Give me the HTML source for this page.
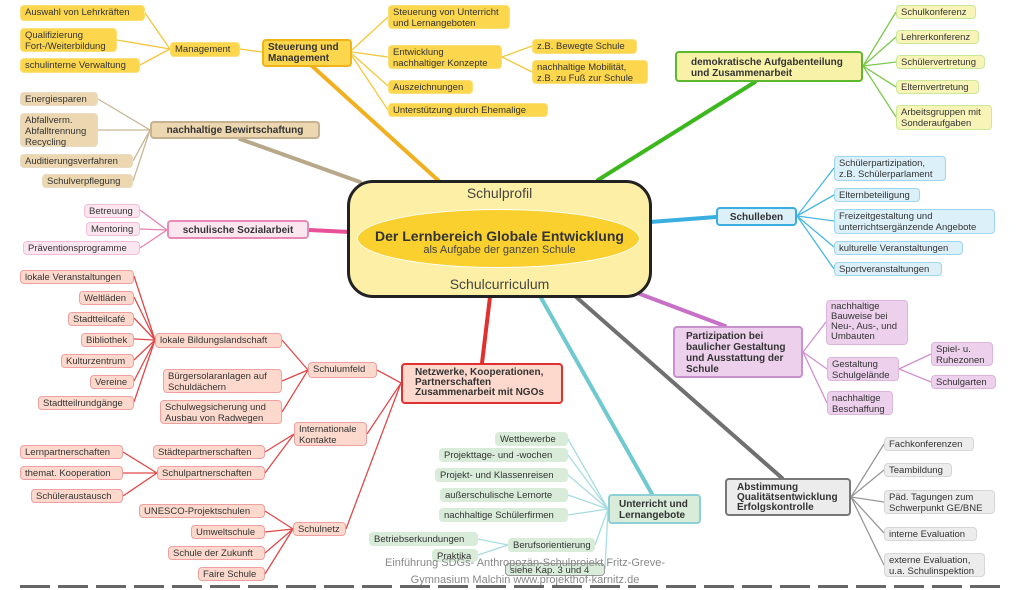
<!DOCTYPE html>
<html><head><meta charset="utf-8"><style>
body{margin:0;width:1022px;height:590px;overflow:hidden;background:#fff;position:relative;font-family:"Liberation Sans",sans-serif}
.b{position:absolute;box-sizing:border-box;font-size:9.5px;line-height:11px;padding:1px 4px;border-radius:4px;color:#333;white-space:nowrap;border:1.5px solid}
.y{background:#fcd64c;border-color:#fbe07a}
.Y{background:#fcd64c;border-color:#f0b418;border-width:2px;font-weight:bold;font-size:10px}
.g{background:#f8f4b8;border-color:#c9e89a}
.G{background:#f8f2a8;border-color:#5cb82e;border-width:2px;font-weight:bold;font-size:10px}
.t{background:#ecd7b0;border-color:#e8dcc4}
.T{background:#ecd7b0;border-color:#c6b290;border-width:2px;font-weight:bold;font-size:10px}
.p{background:#fbe6f0;border-color:#f4bcd6}
.P{background:#fbe6f0;border-color:#e88ab8;border-width:2px;font-weight:bold;font-size:10px}
.c{background:#dcf0fa;border-color:#9ed4ee}
.C{background:#dcf0fa;border-color:#3aaee0;border-width:2px;font-weight:bold;font-size:10px}
.v{background:#ecd0ec;border-color:#ddb6dd}
.V{background:#ecd0ec;border-color:#c890cc;border-width:2px;font-weight:bold;font-size:10px}
.k{background:#ececec;border-color:#d6d6d6}
.K{background:#ececec;border-color:#777;border-width:2px;font-weight:bold;font-size:10px}
.m{background:#d8ecd9;border-color:#d8ecd9}
.M{background:#d8ecd9;border-color:#8ccfd6;border-width:2px;font-weight:bold;font-size:10px}
.r{background:#fcd9cc;border-color:#f0a0a0}
.R{background:#fcd9cc;border-color:#e03030;border-width:2px;font-weight:bold;font-size:10px}
svg{position:absolute;left:0;top:0}
</style></head><body>
<svg width="1022" height="590" fill="none">
<g stroke-width="4" stroke-linecap="round">
<line x1="312" y1="66" x2="440" y2="182" stroke="#f0b020"/>
<line x1="240" y1="139" x2="360" y2="182" stroke="#b8a88a"/>
<line x1="309" y1="230" x2="350" y2="232" stroke="#e8509a"/>
<line x1="755" y1="82" x2="598" y2="180" stroke="#3cb81e"/>
<line x1="650" y1="222" x2="716" y2="217" stroke="#3aaee0"/>
<line x1="640" y1="294" x2="725" y2="326" stroke="#c870c8"/>
<line x1="575" y1="296" x2="782" y2="478" stroke="#707070"/>
<line x1="540" y1="296" x2="652" y2="494" stroke="#70c8d0"/>
<line x1="490" y1="297" x2="482" y2="363" stroke="#e03030"/>
</g>
<g stroke="#f5c63a" stroke-width="1.3">
<path d="M145 13L170 49M117 40L170 49M140 65L170 49M240 49L262 52M352 50L388 17M352 52L388 57M352 54L388 86M352 56L388 110M502 57L532 46M502 57L532 72"/>
</g>
<g stroke="#7cc84a" stroke-width="1.3"><path d="M863 66L896 12M863 66L896 37M863 66L896 62M863 66L896 87M863 66L896 117"/></g>
<g stroke="#c8b898" stroke-width="1.3"><path d="M150 130L98 99M150 130L98 130M150 130L133 161M150 130L133 181"/></g>
<g stroke="#e880b0" stroke-width="1.3"><path d="M167 230L140 210M167 230L140 229M167 230L140 248"/></g>
<g stroke="#48b8e0" stroke-width="1.3"><path d="M797 216L834 168M797 216L834 195M797 216L834 221M797 216L834 247M797 216L834 269"/></g>
<g stroke="#d090d0" stroke-width="1.3"><path d="M803 352L826 322M803 352L827 369M803 352L827 403M899 369L931 354M899 369L931 382"/></g>
<g stroke="#999" stroke-width="1.3"><path d="M851 497L884 444M851 497L884 470M851 497L884 502M851 497L884 533M851 497L884 565"/></g>
<g stroke="#a8dce0" stroke-width="1.3"><path d="M608 509L568 439M608 509L568 455M608 509L568 475M608 509L568 495M608 509L568 515M608 509L595 545M608 509L605 569M508 545L478 539M508 545L478 555"/></g>
<g stroke="#e04848" stroke-width="1.3"><path d="M401 383L377 370M401 383L367 434M401 383L346 529M308 370L282 340M308 370L282 381M308 370L282 412M155 340L134 276M155 340L134 297M155 340L134 318M155 340L134 339M155 340L134 360M155 340L134 381M155 340L134 402M294 434L265 452M294 434L265 473M157 473L123 452M157 473L123 473M157 473L123 496M293 529L265 511M293 529L265 532M293 529L265 553M293 529L265 574"/></g>
</svg>

<div class="b y" style="left:20px;top:5px;width:125px;height:16px">Auswahl von Lehrkräften</div>
<div class="b y" style="left:20px;top:28px;width:97px;height:24px">Qualifizierung<br>Fort-/Weiterbildung</div>
<div class="b y" style="left:20px;top:58px;width:120px;height:15px">schulinterne Verwaltung</div>
<div class="b y" style="left:170px;top:42px;width:70px;height:15px">Management</div>
<div class="b Y" style="left:262px;top:39px;width:90px;height:28px">Steuerung und<br>Management</div>
<div class="b y" style="left:388px;top:5px;width:122px;height:24px">Steuerung von Unterricht<br>und Lernangeboten</div>
<div class="b y" style="left:388px;top:45px;width:114px;height:24px">Entwicklung<br>nachhaltiger Konzepte</div>
<div class="b y" style="left:532px;top:39px;width:105px;height:15px">z.B. Bewegte Schule</div>
<div class="b y" style="left:532px;top:60px;width:116px;height:24px">nachhaltige Mobilität,<br>z.B. zu Fuß zur Schule</div>
<div class="b y" style="left:388px;top:80px;width:85px;height:14px">Auszeichnungen</div>
<div class="b y" style="left:388px;top:103px;width:160px;height:14px">Unterstützung durch Ehemalige</div>

<div class="b G" style="left:675px;top:51px;width:188px;height:31px;padding:4px 14px">demokratische Aufgabenteilung<br>und Zusammenarbeit</div>
<div class="b g" style="left:896px;top:5px;width:80px;height:14px">Schulkonferenz</div>
<div class="b g" style="left:896px;top:30px;width:83px;height:14px">Lehrerkonferenz</div>
<div class="b g" style="left:896px;top:55px;width:89px;height:14px">Schülervertretung</div>
<div class="b g" style="left:896px;top:80px;width:83px;height:14px">Elternvertretung</div>
<div class="b g" style="left:896px;top:105px;width:96px;height:25px">Arbeitsgruppen mit<br>Sonderaufgaben</div>

<div class="b T" style="left:150px;top:121px;width:170px;height:18px;text-align:center;padding-top:2px">nachhaltige Bewirtschaftung</div>
<div class="b t" style="left:20px;top:92px;width:78px;height:14px">Energiesparen</div>
<div class="b t" style="left:20px;top:113px;width:78px;height:34px">Abfallverm.<br>Abfalltrennung<br>Recycling</div>
<div class="b t" style="left:20px;top:154px;width:113px;height:14px">Auditierungsverfahren</div>
<div class="b t" style="left:42px;top:174px;width:91px;height:14px">Schulverpflegung</div>

<div class="b P" style="left:167px;top:220px;width:142px;height:19px;text-align:center;padding-top:3px">schulische Sozialarbeit</div>
<div class="b p" style="left:84px;top:204px;width:56px;height:14px">Betreuung</div>
<div class="b p" style="left:86px;top:222px;width:54px;height:14px">Mentoring</div>
<div class="b p" style="left:23px;top:241px;width:117px;height:14px">Präventionsprogramme</div>

<div style="position:absolute;left:347px;top:180px;width:305px;height:118px;box-sizing:border-box;border:3px solid #222;border-radius:26px;background:#fdf0a6"></div>
<div style="position:absolute;left:357px;top:209px;width:283px;height:59px;box-sizing:border-box;border:1.5px solid #fff;border-radius:50%;background:#fad02e"></div>
<div style="position:absolute;left:347px;top:185px;width:305px;text-align:center;font-size:14px;color:#444">Schulprofil</div>
<div style="position:absolute;left:347px;top:228px;width:305px;text-align:center;font-size:14px;font-weight:bold;color:#333">Der Lernbereich Globale Entwicklung</div>
<div style="position:absolute;left:347px;top:244px;width:305px;text-align:center;font-size:11px;color:#444">als Aufgabe der ganzen Schule</div>
<div style="position:absolute;left:347px;top:276px;width:305px;text-align:center;font-size:14px;color:#444">Schulcurriculum</div>

<div class="b C" style="left:716px;top:207px;width:81px;height:19px;text-align:center;padding-top:3px">Schulleben</div>
<div class="b c" style="left:834px;top:156px;width:112px;height:25px">Schülerpartizipation,<br>z.B. Schülerparlament</div>
<div class="b c" style="left:834px;top:188px;width:86px;height:14px">Elternbeteiligung</div>
<div class="b c" style="left:834px;top:209px;width:161px;height:25px">Freizeitgestaltung und<br>unterrichtsergänzende Angebote</div>
<div class="b c" style="left:834px;top:241px;width:129px;height:14px">kulturelle Veranstaltungen</div>
<div class="b c" style="left:834px;top:262px;width:108px;height:14px">Sportveranstaltungen</div>

<div class="b V" style="left:673px;top:326px;width:130px;height:52px;padding:3px 11px">Partizipation bei<br>baulicher Gestaltung<br>und Ausstattung der<br>Schule</div>
<div class="b v" style="left:826px;top:300px;width:82px;height:45px;line-height:10px">nachhaltige<br>Bauweise bei<br>Neu-, Aus-, und<br>Umbauten</div>
<div class="b v" style="left:827px;top:357px;width:72px;height:24px">Gestaltung<br>Schulgelände</div>
<div class="b v" style="left:931px;top:342px;width:62px;height:24px">Spiel- u.<br>Ruhezonen</div>
<div class="b v" style="left:931px;top:375px;width:65px;height:14px">Schulgarten</div>
<div class="b v" style="left:827px;top:391px;width:66px;height:24px">nachhaltige<br>Beschaffung</div>

<div class="b K" style="left:725px;top:478px;width:126px;height:38px;padding:3px 10px;line-height:10px">Abstimmung<br>Qualitätsentwicklung<br>Erfolgskontrolle</div>
<div class="b k" style="left:884px;top:437px;width:90px;height:14px">Fachkonferenzen</div>
<div class="b k" style="left:884px;top:463px;width:68px;height:14px">Teambildung</div>
<div class="b k" style="left:884px;top:490px;width:111px;height:24px">Päd. Tagungen zum<br>Schwerpunkt GE/BNE</div>
<div class="b k" style="left:884px;top:527px;width:93px;height:14px">interne Evaluation</div>
<div class="b k" style="left:884px;top:553px;width:101px;height:24px">externe Evaluation,<br>u.a. Schulinspektion</div>

<div class="b M" style="left:608px;top:494px;width:93px;height:30px;padding:3px 9px">Unterricht und<br>Lernangebote</div>
<div class="b m" style="left:495px;top:432px;width:73px;height:14px">Wettbewerbe</div>
<div class="b m" style="left:439px;top:448px;width:129px;height:14px">Projekttage- und -wochen</div>
<div class="b m" style="left:435px;top:468px;width:133px;height:14px">Projekt- und Klassenreisen</div>
<div class="b m" style="left:440px;top:488px;width:128px;height:14px">außerschulische Lernorte</div>
<div class="b m" style="left:439px;top:508px;width:129px;height:14px">nachhaltige Schülerfirmen</div>
<div class="b m" style="left:508px;top:538px;width:87px;height:14px">Berufsorientierung</div>
<div class="b m" style="left:369px;top:532px;width:109px;height:14px">Betriebserkundungen</div>
<div class="b m" style="left:432px;top:549px;width:46px;height:13px">Praktika</div>
<div class="b m" style="left:505px;top:563px;width:100px;height:13px;border-color:#999">siehe Kap. 3 und 4</div>

<div class="b R" style="left:401px;top:363px;width:162px;height:41px;padding:3px 12px;line-height:10px">Netzwerke, Kooperationen,<br>Partnerschaften<br>Zusammenarbeit mit NGOs</div>
<div class="b r" style="left:308px;top:362px;width:69px;height:16px">Schulumfeld</div>
<div class="b r" style="left:155px;top:333px;width:127px;height:15px">lokale Bildungslandschaft</div>
<div class="b r" style="left:163px;top:369px;width:119px;height:24px">Bürgersolaranlagen auf<br>Schuldächern</div>
<div class="b r" style="left:160px;top:400px;width:122px;height:24px">Schulwegsicherung und<br>Ausbau von Radwegen</div>
<div class="b r" style="left:294px;top:422px;width:73px;height:24px">Internationale<br>Kontakte</div>
<div class="b r" style="left:153px;top:445px;width:112px;height:14px">Städtepartnerschaften</div>
<div class="b r" style="left:157px;top:466px;width:108px;height:14px">Schulpartnerschaften</div>
<div class="b r" style="left:20px;top:445px;width:103px;height:14px">Lernpartnerschaften</div>
<div class="b r" style="left:20px;top:466px;width:103px;height:14px">themat. Kooperation</div>
<div class="b r" style="left:31px;top:489px;width:92px;height:14px">Schüleraustausch</div>
<div class="b r" style="left:293px;top:522px;width:53px;height:14px">Schulnetz</div>
<div class="b r" style="left:139px;top:504px;width:126px;height:14px">UNESCO-Projektschulen</div>
<div class="b r" style="left:191px;top:525px;width:74px;height:14px">Umweltschule</div>
<div class="b r" style="left:168px;top:546px;width:97px;height:14px">Schule der Zukunft</div>
<div class="b r" style="left:198px;top:567px;width:67px;height:14px">Faire Schule</div>
<div class="b r" style="left:20px;top:270px;width:114px;height:14px">lokale Veranstaltungen</div>
<div class="b r" style="left:79px;top:291px;width:55px;height:14px">Weltläden</div>
<div class="b r" style="left:68px;top:312px;width:66px;height:14px">Stadtteilcafé</div>
<div class="b r" style="left:81px;top:333px;width:53px;height:14px">Bibliothek</div>
<div class="b r" style="left:61px;top:354px;width:73px;height:14px">Kulturzentrum</div>
<div class="b r" style="left:90px;top:375px;width:44px;height:14px">Vereine</div>
<div class="b r" style="left:38px;top:396px;width:96px;height:14px">Stadtteilrundgänge</div>

<div style="position:absolute;left:330px;top:555px;width:390px;text-align:center;font-size:11px;line-height:17px;color:#888">Einführung SDGs- Anthropozän-Schulprojekt Fritz-Greve-<br>Gymnasium Malchin www.projekthof-karnitz.de</div>
<div style="position:absolute;left:20px;top:585px;width:980px;height:3px;background:repeating-linear-gradient(90deg,#666 0 30px,transparent 30px 38px)"></div>
</body></html>
